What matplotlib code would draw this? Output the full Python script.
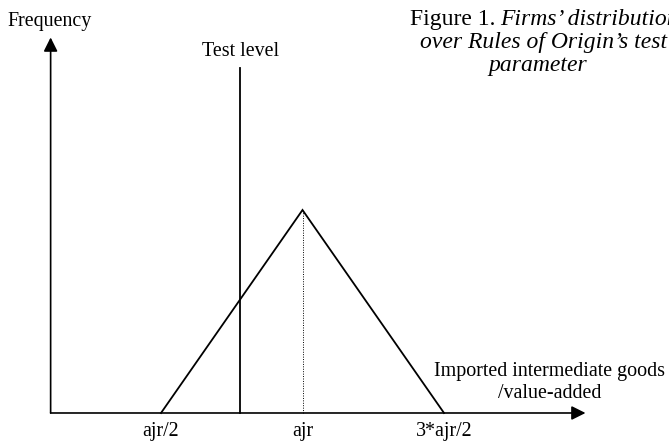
import matplotlib
matplotlib.use("Agg")
import matplotlib.pyplot as plt

# x in units of ajr, y in units of peak frequency
tri_x = [0.5, 1.0, 1.5]
tri_y = [0.0, 1.0, 0.0]
tick_pos = [0.5, 1.0, 1.5]
tick_labels = ["ajr/2", "ajr", "3*ajr/2"]
test_level = 0.78
origin_x = 0.11
x_end = 2.0
y_end = 1.85
test_top = 1.70

plt.rcParams['font.family'] = ['Liberation Serif', 'DejaVu Serif']
fs = 14.4
fs_title = 17

fig = plt.figure(figsize=(6.69, 4.42), dpi=100)
ax = fig.add_axes([0, 0, 1, 1])
ax.set_xlim(-0.0689, 2.295)
ax.set_ylim(-0.1429, 2.0345)
ax.axis('off')

arrow = dict(arrowstyle='-|>', color='black', lw=1.2, mutation_scale=21,
             shrinkA=0, shrinkB=0)
ax.annotate('', xy=(x_end, 0), xytext=(origin_x, 0), arrowprops=arrow)
ax.annotate('', xy=(origin_x, y_end), xytext=(origin_x, 0), arrowprops=arrow)

# triangle distribution
ax.plot(tri_x, tri_y, color='black', lw=1.3, solid_joinstyle='miter')
# dotted line at the peak
ax.plot([tri_x[1], tri_x[1]], [0, tri_y[1]], color='black', lw=0.7, ls=(0, (1, 1.5)))
# test level
ax.plot([test_level, test_level], [0, test_top], color='black', lw=1.3)

for p, lab in zip(tick_pos, tick_labels):
    ax.text(p, -0.113, lab, ha='center', va='baseline', fontsize=fs)

ax.text(test_level, 1.76, "Test level", ha='center', va='baseline', fontsize=fs)

# texts positioned in pixels (figure coordinates)
W, H = 669, 442
def px(x, y):
    return x / W, 1 - y / H

fig.text(*px(7, 26), "Frequency", ha='left', va='baseline', fontsize=fs)
fig.text(*px(549, 376), "Imported intermediate goods", ha='center', va='baseline', fontsize=fs)
fig.text(*px(550, 398), "/value-added", ha='center', va='baseline', fontsize=fs)

# title (runs off the right edge, as in the original)
fig.text(*px(410, 25), "Figure 1. ", ha='left', va='baseline', fontsize=fs_title)
fig.text(*px(500, 25), "Firms\u2019 distribution", ha='left', va='baseline',
         fontsize=fs_title, style='italic')
fig.text(*px(420, 48), "over Rules of Origin\u2019s test", ha='left', va='baseline',
         fontsize=fs_title, style='italic')
fig.text(*px(488, 71), "parameter", ha='left', va='baseline', fontsize=fs_title, style='italic')

fig.savefig("out.png", dpi=100)
